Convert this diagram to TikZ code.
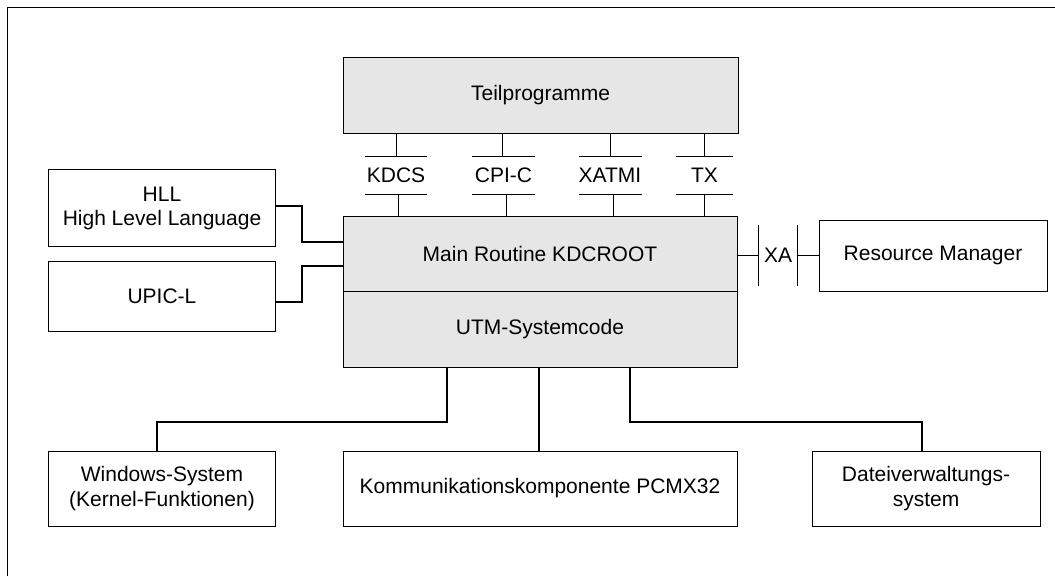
\documentclass[tikz,border=0pt]{standalone}
\usepackage{fontspec}
\setmainfont{Liberation Sans}
\usetikzlibrary{calc}
\definecolor{boxgray}{HTML}{E6E6E6}
\begin{document}
\begin{tikzpicture}[x=1pt,y=-1pt,
  every node/.style={font=\fontsize{21}{24.5}\selectfont, inner sep=0pt, align=center},
  box/.style={draw, line width=1pt, fill=white},
  graybox/.style={draw, line width=1pt, fill=boxgray},
  iface/.style={minimum height=37pt},
  thin line/.style={line width=1pt},
  conn/.style={line width=2pt}
]
\useasboundingbox (0,0) rectangle (1055,576);
% frame
\draw[thin line] (7,576) -- (7,7) -- (1055,7);

% main boxes
\node[graybox, minimum width=395pt, minimum height=76pt] (tp) at (540.5,95) {Teilprogramme};
\node[graybox, minimum width=394pt, minimum height=75pt] (main) at (540,253.5) {Main Routine KDCROOT};
\node[graybox, minimum width=394pt, minimum height=76pt] (utm) at (540,329) {UTM-Systemcode};

\node[box, minimum width=227pt, minimum height=77pt] (hll) at (162,208.3) {HLL\\High Level Language};
\node[box, minimum width=227pt, minimum height=70pt] (upic) at (162,296) {UPIC-L};
\node[box, minimum width=228pt, minimum height=71pt] (rm) at (933,255.5) {Resource Manager};

\node[box, minimum width=227pt, minimum height=75pt] (win) at (162,488.5) {Windows-System\\(Kernel-Funktionen)};
\node[box, minimum width=394pt, minimum height=75pt] (kom) at (540,488.5) {Kommunikationskomponente PCMX32};
\node[box, minimum width=228pt, minimum height=75pt] (dat) at (926,488.5) {Dateiverwaltungs-\\system};

% interfaces
\node[iface, minimum width=61pt] (kdcs) at (396,175.5) {KDCS};
\node[iface, minimum width=62pt] (cpic) at (503.5,175.5) {CPI-C};
\node[iface, minimum width=62pt] (xatmi) at (610,175.5) {XATMI};
\node[iface, minimum width=57pt] (tx) at (704.5,175.5) {TX};
\foreach \n in {kdcs,cpic,xatmi,tx}{
  \draw[thin line] (\n.north west) -- (\n.north east);
  \draw[thin line] (\n.south west) -- (\n.south east);
}
\draw[thin line] (kdcs.north |- tp.south) -- (kdcs.north);
\draw[thin line] ($(kdcs.south)+(2,0)$) -- ($(kdcs.south |- main.north)+(2,0)$);
\draw[thin line] ($(cpic.north)+(-1,0)$) -- ($(cpic.north |- tp.south)+(-1,0)$);
\draw[thin line] ($(cpic.south)+(3,0)$) -- ($(cpic.south |- main.north)+(3,0)$);
\draw[thin line] (xatmi.north |- tp.south) -- (xatmi.north);
\draw[thin line] ($(xatmi.south)+(3,0)$) -- ($(xatmi.south |- main.north)+(3,0)$);
\draw[thin line] (tx.north |- tp.south) -- (tx.north);
\draw[thin line] (tx.south) -- (tx.south |- main.north);

% XA interface
\node[minimum width=38pt, minimum height=61pt] (xa) at (778,255.5) {XA};
\draw[thin line] (xa.north west) -- (xa.south west);
\draw[thin line] (xa.north east) -- (xa.south east);
\draw[thin line] (main.east |- xa.west) -- (xa.west);
\draw[thin line] (xa.east) -- (xa.east -| rm.west);

% left connectors
\draw[conn] ($(hll.east)+(0,-2.6)$) -- ++(26,0) |- ($(main.west)+(0,-12)$);
\draw[conn] ($(upic.east)+(0,5.7)$) -- ++(26,0) |- ($(main.west)+(0,12.5)$);

% bottom connectors
\draw[conn] ($(utm.south)+(-93,0)$) |- ($(win.north)+(-5,-29)$) -- ($(win.north)+(-5,0)$);
\draw[conn] ($(utm.south)+(-1,0)$) -- ($(kom.north)+(-1,0)$);
\draw[conn] ($(utm.south)+(90,0)$) |- ($(dat.north)+(-4,-29)$) -- ($(dat.north)+(-4,0)$);
\end{tikzpicture}
\end{document}
